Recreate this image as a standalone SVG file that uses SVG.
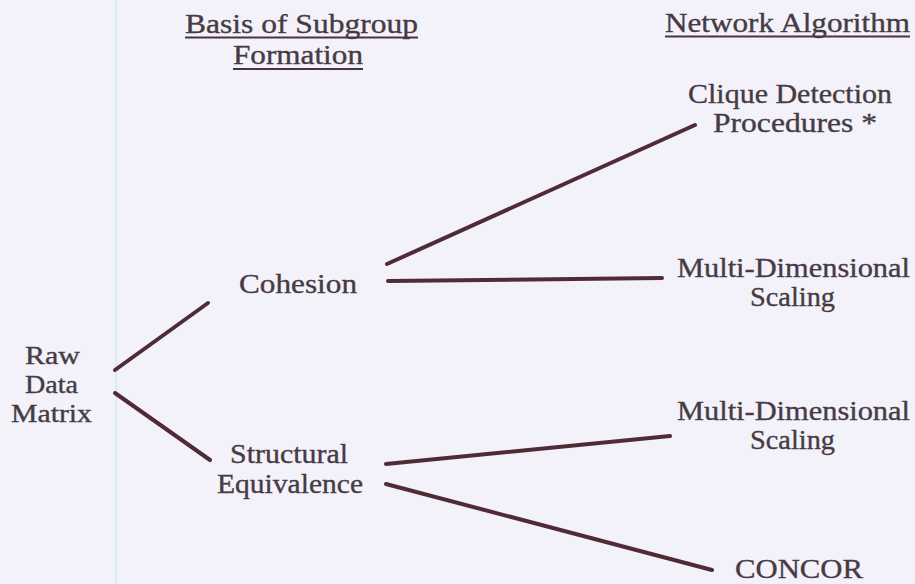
<svg xmlns="http://www.w3.org/2000/svg" width="915" height="584" viewBox="0 0 915 584">
<style>
  .t { font-family: "Liberation Serif", "Times New Roman", serif; font-size: 28px; fill: #463b43; stroke: #463b43; stroke-width: 0.35; }
  .s { font-size: 25px; }
  .ul { stroke: #4b3340; stroke-width: 2.2; }
  .c { stroke: #502b37; stroke-width: 4; stroke-linecap: round; fill: none; }
</style>
<rect x="0" y="0" width="915" height="584" fill="#f3f2fa"/>
<line x1="116" y1="0" x2="116" y2="584" stroke="#d6edf4" stroke-width="2"/>

<g id="header-basis">
  <text class="t" x="185" y="33" textLength="233" lengthAdjust="spacingAndGlyphs">Basis of Subgroup</text>
  <text class="t" x="233" y="64" textLength="130" lengthAdjust="spacingAndGlyphs">Formation</text>
  <line class="ul" x1="185" y1="37.5" x2="418" y2="37.5"/>
  <line class="ul" x1="233" y1="69" x2="363" y2="69"/>
</g>
<g id="header-network">
  <text class="t" x="665" y="32" textLength="245" lengthAdjust="spacingAndGlyphs">Network Algorithm</text>
  <line class="ul" x1="665" y1="36.5" x2="910" y2="36.5"/>
</g>

<g id="raw">
  <text class="t s" x="25" y="364" textLength="55" lengthAdjust="spacingAndGlyphs">Raw</text>
  <text class="t s" x="25" y="393" textLength="53" lengthAdjust="spacingAndGlyphs">Data</text>
  <text class="t s" x="11" y="422" textLength="81" lengthAdjust="spacingAndGlyphs">Matrix</text>
</g>
<g id="cohesion">
  <text class="t" x="239" y="293" textLength="118" lengthAdjust="spacingAndGlyphs">Cohesion</text>
</g>
<g id="structural">
  <text class="t" x="230" y="463" textLength="118" lengthAdjust="spacingAndGlyphs">Structural</text>
  <text class="t" x="217" y="493" textLength="146" lengthAdjust="spacingAndGlyphs">Equivalence</text>
</g>
<g id="clique">
  <text class="t" x="688" y="103" textLength="204" lengthAdjust="spacingAndGlyphs">Clique Detection</text>
  <text class="t" x="713" y="132" textLength="164" lengthAdjust="spacingAndGlyphs">Procedures *</text>
</g>
<g id="mds1">
  <text class="t" x="677" y="277" textLength="233" lengthAdjust="spacingAndGlyphs">Multi-Dimensional</text>
  <text class="t" x="750" y="306" textLength="85" lengthAdjust="spacingAndGlyphs">Scaling</text>
</g>
<g id="mds2">
  <text class="t" x="677" y="420" textLength="233" lengthAdjust="spacingAndGlyphs">Multi-Dimensional</text>
  <text class="t" x="750" y="449" textLength="85" lengthAdjust="spacingAndGlyphs">Scaling</text>
</g>
<g id="concor">
  <text class="t" x="735" y="578" textLength="128" lengthAdjust="spacingAndGlyphs">CONCOR</text>
</g>

<g id="connectors">
  <line class="c" x1="115" y1="370" x2="208" y2="303"/>
  <line class="c" x1="115" y1="393" x2="210" y2="460"/>
  <line class="c" x1="387" y1="264" x2="695" y2="125"/>
  <line class="c" x1="388" y1="281" x2="662" y2="278"/>
  <line class="c" x1="386" y1="464" x2="670" y2="436"/>
  <line class="c" x1="386" y1="484" x2="712" y2="570"/>
</g>
</svg>
